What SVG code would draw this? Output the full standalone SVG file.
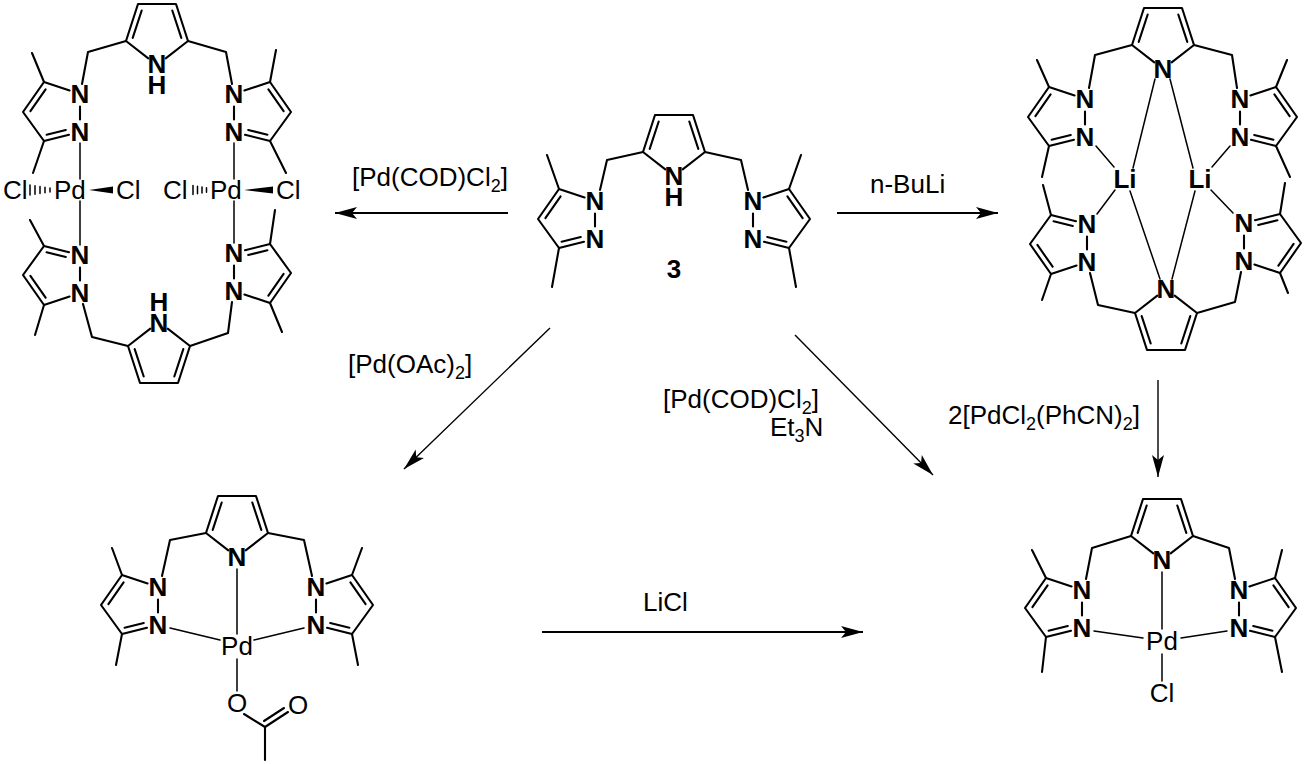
<svg xmlns="http://www.w3.org/2000/svg" width="1304" height="764" viewBox="0 0 1304 764">
<style>
.bd{fill:none;stroke:#000;stroke-width:2.1;stroke-linecap:round;stroke-linejoin:round}
.th{fill:none;stroke:#000;stroke-width:1.5;stroke-linecap:round}
.at{font-family:"Liberation Sans",Arial,sans-serif;font-size:26px;fill:#000;text-anchor:middle}
.bo{font-weight:bold}
.rg{font-family:"Liberation Sans",Arial,sans-serif;font-size:26px;fill:#000}
.s{font-size:18px}
.ar{fill:none;stroke:#000;stroke-width:2;marker-end:url(#ah)}
.ad{fill:none;stroke:#000;stroke-width:1.4;marker-end:url(#ah)}
.wd{fill:#000;stroke:none}
</style>
<defs>
<path id="pz" fill="none" stroke="#000" stroke-width="2.1" stroke-linecap="round" stroke-linejoin="round" d="M0,12.5 V25.5 M-10.4,-3.5 L-36,-12 L-57,18 L-36,47 L-11,40.8 M-49.6,17.1 L-34.4,-4.7 M-33.4,40.7 L-14.2,36"/>
<path id="py" fill="none" stroke="#000" stroke-width="2.1" stroke-linecap="round" stroke-linejoin="round" d="M-8.7,-6.7 L-31,-24 L-19,-61 L19,-61 L31,-24 L8.7,-6.7 M-24.3,-27.1 L-15.3,-54.5 M24.3,-27.1 L15.3,-54.5"/>
<marker id="ah" markerUnits="userSpaceOnUse" markerWidth="24" markerHeight="14" refX="22" refY="6" orient="auto" overflow="visible">
<path d="M0,0 L22,6 L0,12 L5,6 z" fill="#000"/>
</marker>
</defs>

<g id="pd-dimer">
<use href="#py" transform="translate(157,65)"/>
<use href="#py" transform="translate(159,322) scale(1,-1)"/>
<use href="#pz" transform="translate(80,94)"/>
<use href="#pz" transform="translate(234,94) scale(-1,1)"/>
<use href="#pz" transform="translate(80,293) scale(1,-1)"/>
<use href="#pz" transform="translate(234,291) scale(-1,-1)"/>
<path class="bd" d="M126,41 L88,52 L82,84 M188,41 L226,52 L232,84 M44,82 L32,53 M44,141 L33,173 M270,82 L276,50 M270,141 L286,173 M83,304 L92,337 L128,346 M232,302 L228,333 L190,346 M44,246 L30,220 M44,305 L35,335 M270,244 L275,210 M270,303 L282,332"/>
<path class="th" d="M80,143 V179 M80,201 V245 M234,143 V179 M234,201 V243"/>
<path class="th" d="M30,185 V195 M35,185.8 V194.2 M40,186.5 V193.5 M45,187.3 V192.7 M50,188 V192 M193,185.5 V194.5 M197.5,186.3 V193.7 M202,187 V193 M206.5,187.8 V192.2"/>
<polygon class="wd" points="89,190 113,186.5 113,193.5"/>
<polygon class="wd" points="244,190 273,186.5 273,193.5"/>
<text class="at bo" x="157" y="73.3">N<tspan x="157" dy="21">H</tspan></text>
<text class="at bo" x="80" y="103.3">N</text>
<text class="at bo" x="80" y="141.3">N</text>
<text class="at bo" x="234" y="103.3">N</text>
<text class="at bo" x="234" y="141.3">N</text>
<text class="at bo" x="80" y="264.3">N</text>
<text class="at bo" x="80" y="302.3">N</text>
<text class="at bo" x="234" y="262.3">N</text>
<text class="at bo" x="234" y="300.3">N</text>
<text class="at bo" x="159" y="311.3">H<tspan x="159" dy="21">N</tspan></text>
<text class="rg" x="3" y="199">Cl</text>
<text class="rg" x="54" y="199">Pd</text>
<text class="rg" x="116" y="199">Cl</text>
<text class="rg" x="163" y="199">Cl</text>
<text class="rg" x="210" y="199">Pd</text>
<text class="rg" x="276" y="199">Cl</text>
</g>

<g id="ligand-3">
<use href="#py" transform="translate(674,176)"/>
<use href="#pz" transform="translate(595,201)"/>
<use href="#pz" transform="translate(753,201) scale(-1,1)"/>
<path class="bd" d="M643,152 L607,160 L600,190 M705,152 L741,160 L748,190 M559,189 L547,155 M559,248 L552,287 M789,189 L801,155 M789,248 L796,287"/>
<text class="at bo" x="674" y="185.3">N<tspan x="674" dy="21">H</tspan></text>
<text class="at bo" x="595" y="210.3">N</text>
<text class="at bo" x="595" y="248.3">N</text>
<text class="at bo" x="753" y="210.3">N</text>
<text class="at bo" x="753" y="248.3">N</text>
<text class="at bo" x="674" y="278">3</text>
</g>

<g id="li-dimer">
<use href="#py" transform="translate(1163,69)"/>
<use href="#py" transform="translate(1166,289) scale(1,-1)"/>
<use href="#pz" transform="translate(1085,99)"/>
<use href="#pz" transform="translate(1240,99) scale(-1,1)"/>
<use href="#pz" transform="translate(1087,262) scale(1,-1)"/>
<use href="#pz" transform="translate(1244,261) scale(-1,-1)"/>
<path class="bd" d="M1132,45 L1095,55 L1089,88 M1194,45 L1232,55 L1237,88 M1049,87 L1037,60 M1049,146 L1042,177 M1276,87 L1287,60 M1276,146 L1290,177 M1090,273 L1098,305 L1135,313 M1241,272 L1235,302 L1197,313 M1051,215 L1043,185 M1051,274 L1042,300 M1280,214 L1285,183 M1280,273 L1288,293"/>
<path class="th" d="M1155,79 L1133,168 M1170,79 L1193,168 M1096,146 L1114,167 M1230,146 L1212,167 M1115,190 L1097,214 M1130,191 L1160,279 M1195,191 L1172,279 M1211,190 L1233,213"/>
<text class="at bo" x="1163" y="78.3">N</text>
<text class="at bo" x="1085" y="108.3">N</text>
<text class="at bo" x="1085" y="146.3">N</text>
<text class="at bo" x="1240" y="108.3">N</text>
<text class="at bo" x="1240" y="146.3">N</text>
<text class="at bo" x="1125" y="188.3">Li</text>
<text class="at bo" x="1200" y="188.3">Li</text>
<text class="at bo" x="1087" y="233.3">N</text>
<text class="at bo" x="1087" y="271.3">N</text>
<text class="at bo" x="1244" y="232.3">N</text>
<text class="at bo" x="1244" y="270.3">N</text>
<text class="at bo" x="1166" y="298.3">N</text>
</g>

<g id="pd-oac">
<use href="#py" transform="translate(237,557)"/>
<use href="#pz" transform="translate(158,587)"/>
<use href="#pz" transform="translate(316,587) scale(-1,1)"/>
<path class="bd" d="M206,533 L170,540 L162,576 M268,533 L304,540 L312,576 M122,575 L112,548 M122,634 L116,665 M352,575 L362,548 M352,634 L358,665 M244,714 L265,727 L288,712 M264,721 L284,708 M265,727 V760"/>
<path class="th" d="M237,569 V634 M170,628 L220,640 M304,628 L254,640 M237,659 V691"/>
<text class="at bo" x="237" y="566.3">N</text>
<text class="at bo" x="158" y="596.3">N</text>
<text class="at bo" x="158" y="634.3">N</text>
<text class="at bo" x="316" y="596.3">N</text>
<text class="at bo" x="316" y="634.3">N</text>
<text class="at" x="237" y="655.3">Pd</text>
<text class="at" x="237" y="712.3">O</text>
<text class="at" x="298" y="714.3">O</text>
</g>

<g id="pd-cl">
<use href="#py" transform="translate(1162,560)"/>
<use href="#pz" transform="translate(1082,590)"/>
<use href="#pz" transform="translate(1239,590) scale(-1,1)"/>
<path class="bd" d="M1131,536 L1092,548 L1086,579 M1193,536 L1229,548 L1235,579 M1046,578 L1032,550 M1046,637 L1042,672 M1275,578 L1282,550 M1275,637 L1282,672"/>
<path class="th" d="M1162,572 V629 M1094,631 L1143,638 M1227,631 L1181,638 M1162,654 V681"/>
<text class="at bo" x="1162" y="569.3">N</text>
<text class="at bo" x="1082" y="599.3">N</text>
<text class="at bo" x="1082" y="637.3">N</text>
<text class="at bo" x="1239" y="599.3">N</text>
<text class="at bo" x="1239" y="637.3">N</text>
<text class="at" x="1162" y="650.3">Pd</text>
<text class="at" x="1162" y="702.3">Cl</text>
</g>

<g id="connectors">
<path class="ar" d="M508,213 H335"/>
<path class="ar" d="M837,213 H998"/>
<path class="ad" d="M550,328 L404,469"/>
<path class="ad" d="M795,335 L933,475"/>
<path class="ad" d="M1158,380 V477"/>
<path class="ar" d="M542,632 H863"/>
</g>

<g id="labels">
<text class="rg" x="352" y="186">[Pd(COD)Cl<tspan class="s" dy="6">2</tspan><tspan dy="-6">]</tspan></text>
<text class="rg" x="348" y="373">[Pd(OAc)<tspan class="s" dy="6">2</tspan><tspan dy="-6">]</tspan></text>
<text class="rg" x="663" y="408">[Pd(COD)Cl<tspan class="s" dy="6">2</tspan><tspan dy="-6">]</tspan><tspan x="770" dy="28">Et</tspan><tspan class="s" dy="6">3</tspan><tspan dy="-6">N</tspan></text>
<text class="rg" x="870" y="193">n-BuLi</text>
<text class="rg" x="948" y="424">2[PdCl<tspan class="s" dy="6">2</tspan><tspan dy="-6">(PhCN)</tspan><tspan class="s" dy="6">2</tspan><tspan dy="-6">]</tspan></text>
<text class="rg" x="643" y="611">LiCl</text>
</g>
</svg>
